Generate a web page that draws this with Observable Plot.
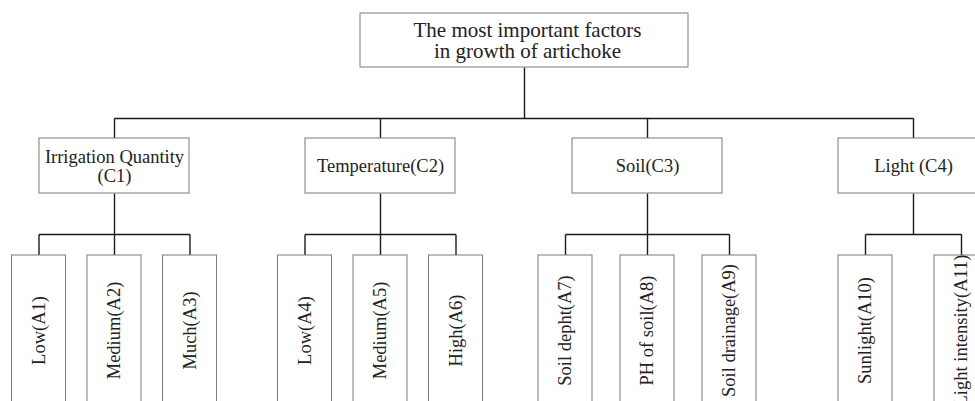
<!DOCTYPE html>
<html>
<head>
<meta charset="utf-8">
<script src="https://cdn.jsdelivr.net/npm/d3@7"></script>
<script src="https://cdn.jsdelivr.net/npm/@observablehq/plot@0.6"></script>
<style>
  html, body { margin: 0; padding: 0; background: #fff; }
  #chart svg { display: block; }
</style>
</head>
<body>
<div id="chart"></div>
<script>
// ---- data ----
const rootLabel = "The most important factors\nin growth of artichoke";
const criteria = ["Irrigation Quantity\n(C1)", "Temperature(C2)", "Soil(C3)", "Light (C4)"];
const alternatives = [
  ["Low(A1)", "Medium(A2)", "Much(A3)"],
  ["Low(A4)", "Medium(A5)", "High(A6)"],
  ["Soil depht(A7)", "PH of soil(A8)", "Soil drainage(A9)"],
  ["Sunlight(A10)", "Light intensity(A11)"]
];

// ---- layout (pixel geometry of the diagram) ----
const W = 975, H = 401;
const root = {cx: 524, w: 328, y1: 13, y2: 67};
const busY1 = 118;
const critCenters = [114, 380, 647, 913];
const critW = 150, critY1 = 138, critY2 = 193;
const busY2 = 234;
const childGaps = [75.5, 75.5, 82, 96];
const childW = 54, childY1 = 255, childY2 = 405;

const boxes = [];
const links = [];
const labels = [];
const leafLabels = [];

boxes.push({x1: root.cx - root.w / 2, x2: root.cx + root.w / 2, y1: root.y1, y2: root.y2});
labels.push({x: root.cx + 3, y: (root.y1 + root.y2) / 2, text: rootLabel, size: 21});
links.push({x1: root.cx, y1: root.y2, x2: root.cx, y2: busY1});
links.push({x1: critCenters[0], y1: busY1, x2: critCenters[critCenters.length - 1], y2: busY1});

criteria.forEach((c, i) => {
  const cx = critCenters[i];
  boxes.push({x1: cx - critW / 2, x2: cx + critW / 2, y1: critY1, y2: critY2});
  labels.push({x: cx, y: (critY1 + critY2) / 2, text: c, size: 18.5});
  links.push({x1: cx, y1: busY1, x2: cx, y2: critY1});
  links.push({x1: cx, y1: critY2, x2: cx, y2: busY2});
  const kids = alternatives[i];
  const n = kids.length;
  const centers = kids.map((_, j) => cx + (j - (n - 1) / 2) * childGaps[i]);
  links.push({x1: centers[0], y1: busY2, x2: centers[n - 1], y2: busY2});
  kids.forEach((k, j) => {
    const kx = centers[j];
    boxes.push({x1: kx - childW / 2, x2: kx + childW / 2, y1: childY1, y2: childY2});
    links.push({x1: kx, y1: busY2, x2: kx, y2: childY1});
    leafLabels.push({x: kx, y: 330, text: k});
  });
});

const font = "'Liberation Serif', 'Times New Roman', serif";

const chart = Plot.plot({
  width: W,
  height: H,
  margin: 0,
  x: {type: "identity", axis: null},
  y: {type: "identity", axis: null},
  style: {fontFamily: font, background: "#fff"},
  marks: [
    Plot.link(links, {x1: "x1", y1: "y1", x2: "x2", y2: "y2", stroke: "#1a1a1a", strokeWidth: 1.4}),
    Plot.rect(boxes, {x1: "x1", x2: "x2", y1: "y1", y2: "y2", fill: "#fff", stroke: "#7a7a7a", strokeWidth: 1}),
    Plot.text(labels.filter(d => d.size === 21), {x: "x", y: "y", text: "text", fontSize: 21, lineHeight: 1.0, fill: "#222", fontFamily: font}),
    Plot.text(labels.filter(d => d.size !== 21), {x: "x", y: "y", text: "text", fontSize: 18.5, lineHeight: 1.05, fill: "#222", fontFamily: font}),
    Plot.text(leafLabels, {x: "x", y: "y", text: "text", rotate: -90, fontSize: 18.5, fill: "#222", fontFamily: font})
  ]
});

document.getElementById("chart").appendChild(chart);
</script>
</body>
</html>
